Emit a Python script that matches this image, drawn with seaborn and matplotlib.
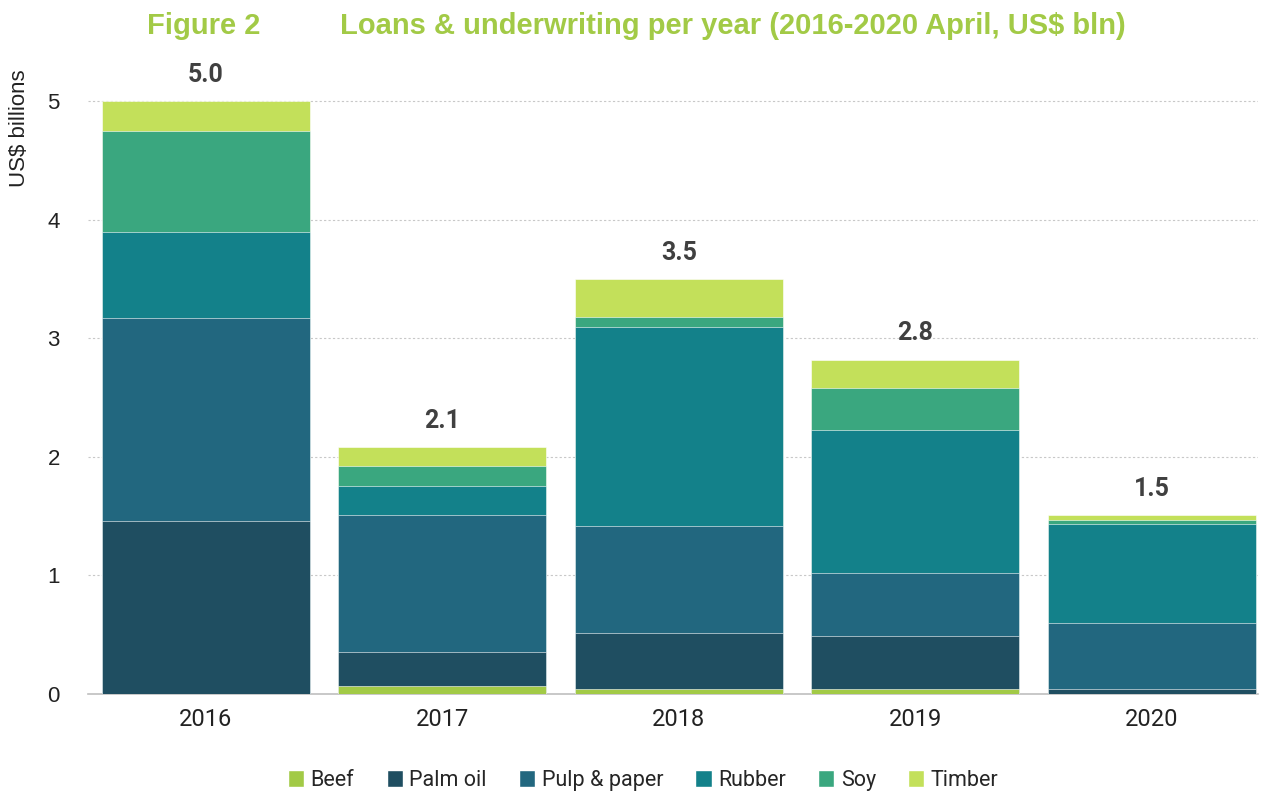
import numpy as np
import pandas as pd
import matplotlib
matplotlib.use("Agg")
import matplotlib.pyplot as plt
import seaborn as sns
from matplotlib.patches import Patch

sns.set_theme(style="white")
plt.rcParams['font.family'] = ['Roboto', 'DejaVu Sans']

years = ["2016", "2017", "2018", "2019", "2020"]
sectors = ["Beef", "Palm oil", "Pulp & paper", "Rubber", "Soy", "Timber"]
beef = [0.0, 0.07, 0.04, 0.04, 0.0]
palm_oil = [1.46, 0.28, 0.47, 0.45, 0.04]
pulp_paper = [1.71, 1.16, 0.91, 0.53, 0.56]
rubber = [0.73, 0.24, 1.68, 1.21, 0.83]
soy = [0.85, 0.17, 0.08, 0.35, 0.04]
timber = [0.25, 0.16, 0.32, 0.24, 0.04]
colors = ["#A2CA46", "#1F4E61", "#22677F", "#13818A", "#3AA77F", "#C3E05A"]

data = pd.DataFrame({"Beef": beef, "Palm oil": palm_oil, "Pulp & paper": pulp_paper,
                     "Rubber": rubber, "Soy": soy, "Timber": timber}, index=years)
cum = data.cumsum(axis=1)
totals = data.sum(axis=1)

fig = plt.figure(figsize=(12.71, 7.93), dpi=100)
ax = fig.add_axes([0.069, 0.125, 0.921, 0.792])

# draw cumulative bars from top layer down so they stack
for sec, col in reversed(list(zip(sectors, colors))):
    sns.barplot(x=years, y=cum[sec].values, color=col, width=0.88, ax=ax,
                saturation=1, edgecolor="white", linewidth=0.4, zorder=3)

for i, t in enumerate(totals):
    ax.text(i, t + 0.12, f"{t:.1f}", ha="center", va="bottom", fontsize=18,
            fontweight="bold", color="#404040")

ax.set_ylim(0, 5.3)
ax.set_xlim(-0.5, 4.45)
ax.set_yticks([0, 1, 2, 3, 4, 5])
ax.yaxis.grid(True, color="#c8c8c8", linestyle=(0, (2, 2)), linewidth=0.8, zorder=0)
for s in ["top", "right", "left"]:
    ax.spines[s].set_visible(False)
ax.spines["bottom"].set_color("#bfbfbf")
ax.spines["bottom"].set_linewidth(1.2)
ax.tick_params(axis="x", labelsize=17, colors="#222222", length=0, pad=10)
ax.tick_params(axis="y", labelsize=16, colors="#222222", length=0, pad=20)
for lab in ax.get_yticklabels():
    lab.set_family(["Liberation Sans", "DejaVu Sans"])
ax.set_ylabel("US$ billions", fontsize=16, color="#222222",
              family=["Liberation Sans", "DejaVu Sans"])
ax.yaxis.set_label_coords(-0.049, 0.9)

handles = [Patch(facecolor=c, label=s) for s, c in zip(sectors, colors)]
fig.legend(handles=handles, loc="lower center", ncol=6, frameon=False, fontsize=15.5,
           bbox_to_anchor=(0.506, -0.022), handlelength=0.75, handleheight=0.8,
           handletextpad=0.3, columnspacing=1.5)

title_kw = dict(fontsize=21, fontweight="bold", color="#A2CA46",
                family=["Liberation Sans", "DejaVu Sans"], va="center")
fig.text(147 / 1271, 1 - 26 / 793, "Figure 2", ha="left", **title_kw)
fig.text(340 / 1271, 1 - 26 / 793, "Loans & underwriting per year (2016-2020 April, US$ bln)",
         ha="left", **title_kw)

fig.savefig("out.png", dpi=100)
